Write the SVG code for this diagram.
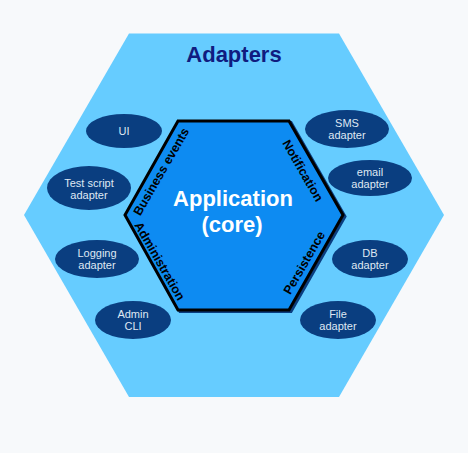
<svg xmlns="http://www.w3.org/2000/svg" width="468" height="453" viewBox="0 0 468 453">
  <style>
    .adapter ellipse { fill: #0a3e80; }
    .adapter text { font-family: "Liberation Sans", Arial, sans-serif; font-size: 11px; fill: #dfe8f3; text-anchor: middle; }
    .port { font-family: "Liberation Sans", Arial, sans-serif; font-size: 12.5px; font-weight: bold; fill: #000; text-anchor: middle; }
  </style>
  <rect width="468" height="453" fill="#f7f9fb"/>

  <!-- outer ring: adapters layer -->
  <g id="adapters-layer">
    <polygon points="129,33.5 339,33.5 444,215 339,397 129,397 24,215" fill="#66ccff"/>
    <text x="234" y="62" font-family="'Liberation Sans', Arial, sans-serif" font-size="22" font-weight="bold" fill="#101c80" text-anchor="middle">Adapters</text>
  </g>

  <!-- application core -->
  <g id="core">
    <polygon points="178,121 289,121 343,215 289,310 178,310 125,215" fill="none" stroke="#0a3e80" stroke-width="3" transform="translate(2,1.5)"/>
    <polygon points="178,121 289,121 343,215 289,310 178,310 125,215" fill="#0d8bf2" stroke="#000" stroke-width="3" stroke-linejoin="miter"/>
    <text x="233" y="206" font-family="'Liberation Sans', Arial, sans-serif" font-size="22" font-weight="bold" fill="#fff" text-anchor="middle">Application</text>
    <text x="232" y="232" font-family="'Liberation Sans', Arial, sans-serif" font-size="22" font-weight="bold" fill="#fff" text-anchor="middle">(core)</text>
    <text class="port" transform="translate(161,171.5) rotate(-60)" y="4.5">Business events</text>
    <text class="port" transform="translate(160,261) rotate(60)" y="4.5">Administration</text>
    <text class="port" transform="translate(303,170.5) rotate(60)" y="4.5">Notification</text>
    <text class="port" transform="translate(304,262.5) rotate(-60)" y="4.5">Persistence</text>
  </g>

  <!-- adapters -->
  <g id="ui" class="adapter">
    <ellipse cx="124" cy="131" rx="38" ry="17"/>
    <text x="124" y="135">UI</text>
  </g>
  <g id="test-script" class="adapter">
    <ellipse cx="89" cy="188" rx="42" ry="22"/>
    <text x="89" y="187">Test script</text>
    <text x="89" y="199">adapter</text>
  </g>
  <g id="logging" class="adapter">
    <ellipse cx="97" cy="259" rx="42" ry="19"/>
    <text x="97" y="257">Logging</text>
    <text x="97" y="269">adapter</text>
  </g>
  <g id="admin-cli" class="adapter">
    <ellipse cx="133" cy="320" rx="38" ry="19"/>
    <text x="133" y="318">Admin</text>
    <text x="133" y="330">CLI</text>
  </g>
  <g id="sms" class="adapter">
    <ellipse cx="347" cy="129" rx="42" ry="19"/>
    <text x="347" y="127">SMS</text>
    <text x="347" y="139">adapter</text>
  </g>
  <g id="email" class="adapter">
    <ellipse cx="370" cy="178" rx="42" ry="18"/>
    <text x="370" y="176">email</text>
    <text x="370" y="188">adapter</text>
  </g>
  <g id="db" class="adapter">
    <ellipse cx="370" cy="259" rx="38" ry="19"/>
    <text x="370" y="257">DB</text>
    <text x="370" y="269">adapter</text>
  </g>
  <g id="file" class="adapter">
    <ellipse cx="338" cy="320" rx="38" ry="19"/>
    <text x="338" y="318">File</text>
    <text x="338" y="330">adapter</text>
  </g>

  <g id="connectors"/>
</svg>
